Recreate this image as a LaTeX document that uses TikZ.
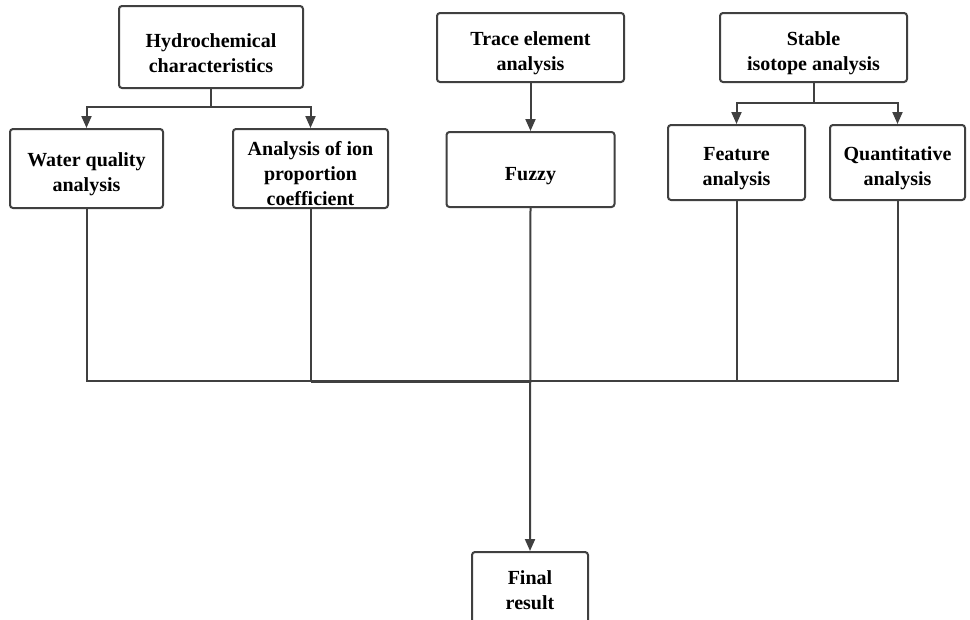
\documentclass[tikz,border=0pt]{standalone}
\usepackage{fontspec}
\setmainfont{Liberation Serif}
\usetikzlibrary{arrows.meta}
\definecolor{ln}{HTML}{404040}
\newcommand{\lowertext}{\rule{0pt}{26pt}}
\tikzset{
  box/.style={draw=ln, line width=2pt, rounded corners=3pt, fill=white,
    align=center, inner sep=2pt,
    font=\fontsize{20}{25}\selectfont\bfseries},
  conn/.style={draw=ln, line width=2pt},
  arr/.style={conn, -{Triangle[length=12pt,width=10pt]}}
}
\begin{document}
\begin{tikzpicture}[x=1pt,y=-1pt]
\useasboundingbox (0,0) rectangle (970,619);
\clip (0,0) rectangle (970,619);
\fill[white] (0,0) rectangle (970,619);
% top row
\node[box, minimum width=184pt, minimum height=82pt] (hyd) at (211,47) {\lowertext Hydrochemical\\characteristics};
\node[box, minimum width=187pt, minimum height=69pt] (tra) at (530.5,47.5) {\lowertext Trace element\\analysis};
\node[box, minimum width=187pt, minimum height=69pt] (sta) at (813.5,47.5) {\lowertext Stable\\isotope analysis};
% second row
\node[box, minimum width=153pt, minimum height=79pt] (wat) at (86.5,168.5) {\lowertext Water quality\\analysis};
\node[box, inner sep=0pt, minimum width=155pt, minimum height=79pt] (ion) at (310.5,168.5) {\rule{0pt}{24pt}Analysis of ion\\proportion\\coefficient};
\node[box, minimum width=168pt, minimum height=75pt] (fuz) at (530.5,169.5) {\lowertext Fuzzy};
\node[box, minimum width=137pt, minimum height=75pt] (fea) at (736.5,162.5) {\lowertext Feature\\analysis};
\node[box, minimum width=135pt, minimum height=75pt] (qua) at (897.5,162.5) {\lowertext Quantitative\\analysis};
% final
\node[box, minimum width=116pt, minimum height=76pt, anchor=north] (fin) at (530,551) {Final\\result};
% coordinates
\coordinate (hb) at (211,107);
\coordinate (sb) at (813.5,103);
\coordinate (jw) at (wat.south |- 0,381);
\coordinate (ji) at (ion.south |- 0,381);
\coordinate (jf) at (fuz.south |- 0,381);
\coordinate (je) at (fea.south |- 0,381);
\coordinate (jq) at (qua.south |- 0,381);
% branches from hydrochemical
\draw[conn] (hyd.south) -- (hb);
\draw[arr] (hb) -| (wat.north);
\draw[arr] (hb) -| (ion.north);
% trace -> fuzzy
\draw[arr] (tra.south) -- (fuz.north);
% stable branches
\draw[conn] (sta.south) -- (sb);
\draw[arr] (sb) -| (fea.north);
\draw[arr] (sb) -| (qua.north);
% bottom collector
\draw[conn] (wat.south) -- (jw) -- (jq) -- (qua.south);
\draw[conn] (ion.south) -- (ji);
\draw[conn] (fea.south) -- (je);
\draw[conn, line width=3pt] (ji) -- (jf);
\draw[arr] (fuz.south) -- (fin.north);
\end{tikzpicture}
\end{document}
